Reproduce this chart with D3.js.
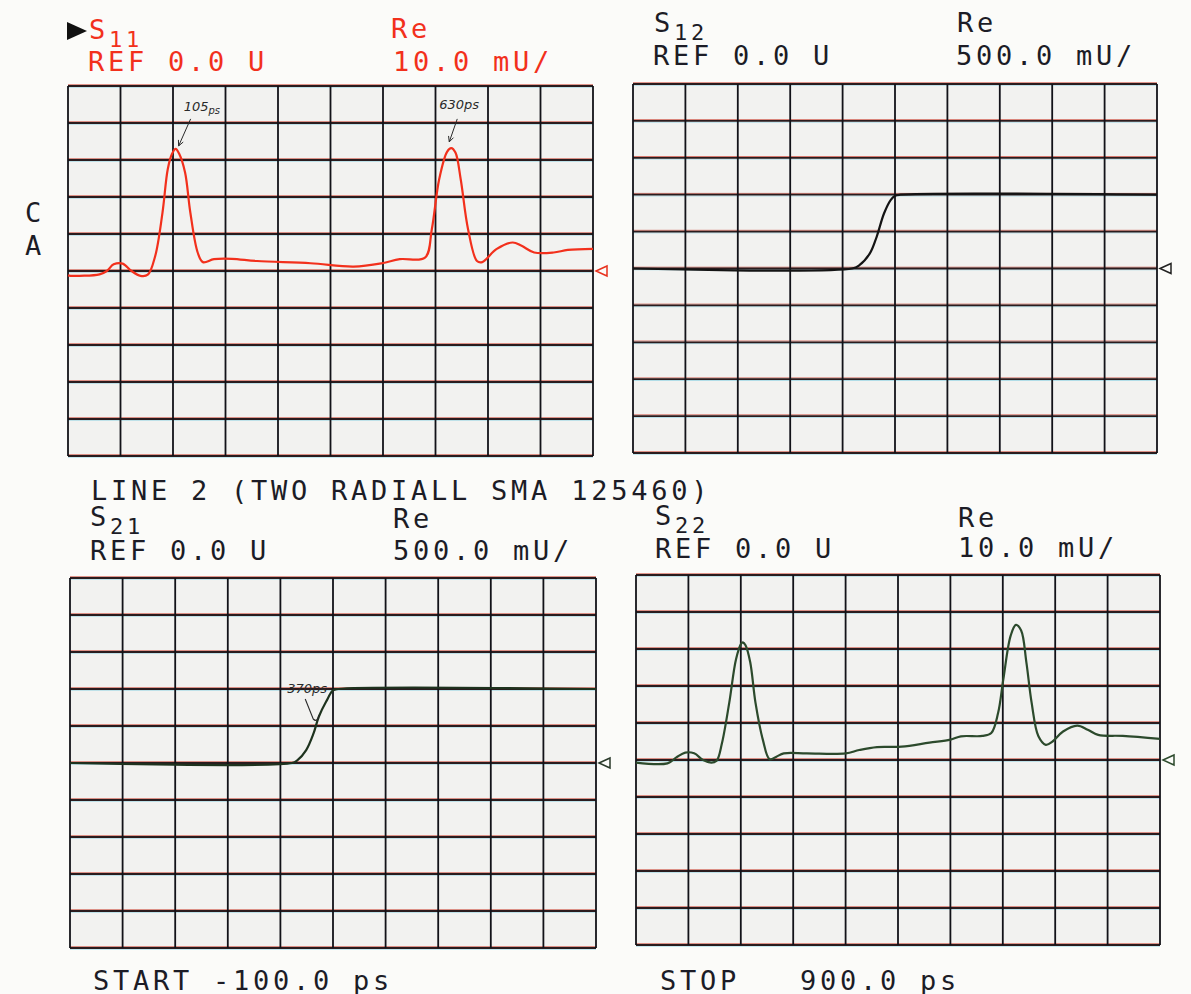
<!DOCTYPE html>
<html>
<head>
<meta charset="utf-8">
<script src="https://cdn.jsdelivr.net/npm/d3@7"></script>
<style>
  body { margin: 0; background: #fbfbf9; }
  svg { display: block; }
  .plot { font-family: "DejaVu Sans Mono", monospace; font-size: 27px; letter-spacing: 3.75px; white-space: pre; font-variant-numeric: slashed-zero; }
  .hand { font-family: "DejaVu Sans", sans-serif; font-style: italic; letter-spacing: 0; }
</style>
</head>
<body>
<svg id="chart" width="1191" height="994"></svg>
<script>
// time axis: START -100 ps, STOP 900 ps
const timeSpan = [-100, 900];

// S11 (red trace, 10 mU/div)
const s11Time = [-100, -95, -40, -26, -13, 4, 21, 38, 52, 66, 80, 90, 98, 105, 112, 123, 133, 147, 157, 178, 212, 260, 362, 444, 498, 532, 580, 593, 607, 622, 630, 638, 648, 662, 679, 689, 716, 747, 764, 788, 825, 852, 900];
const s11Val  = [-1.2, -1.3, -0.9, 0, 1.8, 2.0, 0, -1.3, -1.0, 4, 15.8, 27.5, 31.6, 33, 31.6, 26.6, 15.8, 5, 2.4, 3.2, 3.3, 2.7, 2.1, 1.2, 2.1, 3.2, 3.6, 11.3, 24.8, 32.2, 33.2, 32, 24.8, 11.3, 2.7, 2.4, 5.9, 7.7, 6.8, 5.0, 5.0, 5.7, 6.0];

// S12 (500 mU/div)
const s12Time = [-100, 318, 332, 352, 365, 379, 392, 400, 410, 900];
const s12Val  = [0, 0, 45, 205, 430, 745, 930, 985, 1000, 1000];

// S21 (500 mU/div)
const s21Time = [-100, 322, 332, 349, 363, 373, 387, 400, 410, 900];
const s21Val  = [0, 0, 35, 175, 400, 625, 830, 980, 1000, 1000];

// S22 (10 mU/div)
const s22Time = [-100, -40, -23, -6, 11, 28, 44, 54, 64, 78, 91, 101, 104, 109, 118, 128, 142, 155, 168, 182, 226, 300, 326, 360, 407, 460, 500, 520, 561, 578, 591, 601, 615, 625, 635, 645, 655, 668, 682, 695, 715, 742, 762, 782, 829, 900];
const s22Val  = [-0.7, -0.9, 0.7, 2.0, 1.8, 0, -0.7, -0.2, 4.5, 15.5, 27.3, 31.5, 31.8, 31, 26.4, 15.5, 5.5, 0.2, 0.9, 1.8, 1.8, 1.8, 2.7, 3.5, 3.6, 4.7, 5.5, 6.4, 6.5, 7.3, 12.7, 21.8, 33.6, 36.5, 35, 26.4, 15.5, 6.4, 4.1, 5.0, 7.7, 9.3, 8.2, 6.8, 6.5, 5.7];

const svg = d3.select("#chart");

const panels = [
  { name: "11", time: s11Time, val: s11Val, scale: 10,  left: 68,  top: 86,  right: 593,  bottom: 456, color: "#f2301c", tri: "#e8321e" },
  { name: "12", time: s12Time, val: s12Val, scale: 500, left: 633, top: 84,  right: 1157, bottom: 453, color: "#141414", tri: "#222" },
  { name: "21", time: s21Time, val: s21Val, scale: 500, left: 70,  top: 578, right: 596,  bottom: 948, color: "#1e331e", tri: "#2a3a2a" },
  { name: "22", time: s22Time, val: s22Val, scale: 10,  left: 636, top: 575, right: 1160, bottom: 945, color: "#2c4a2c", tri: "#2c4a2c" }
];

panels.forEach(p => {
  const x = d3.scaleLinear().domain(timeSpan).range([p.left, p.right]);
  const y = d3.scaleLinear().domain([-5 * p.scale, 5 * p.scale]).range([p.bottom, p.top]);
  p.x = x; p.y = y;
  const g = svg.append("g");

  g.append("rect")
    .attr("x", p.left).attr("y", p.top)
    .attr("width", p.right - p.left).attr("height", p.bottom - p.top)
    .attr("fill", "#f2f2f0");

  // horizontal lines with scan colour fringes
  const yt = y.ticks(10);
  g.selectAll(".hr").data(yt).join("line")
    .attr("x1", p.left).attr("x2", p.right)
    .attr("y1", d => y(d) - 1.3).attr("y2", d => y(d) - 1.3)
    .attr("stroke", "#c83a2a").attr("stroke-width", 1).attr("opacity", 0.65);
  g.selectAll(".hc").data(yt).join("line")
    .attr("x1", p.left).attr("x2", p.right)
    .attr("y1", d => y(d) + 1.3).attr("y2", d => y(d) + 1.3)
    .attr("stroke", "#3ab8d8").attr("stroke-width", 1).attr("opacity", 0.35);
  g.selectAll(".h").data(yt).join("line")
    .attr("x1", p.left).attr("x2", p.right)
    .attr("y1", d => y(d)).attr("y2", d => y(d))
    .attr("stroke", "#2a1c1e").attr("stroke-width", 1.8);

  g.selectAll(".v").data(x.ticks(10)).join("line")
    .attr("x1", d => x(d)).attr("x2", d => x(d))
    .attr("y1", p.top).attr("y2", p.bottom)
    .attr("stroke", "#121218").attr("stroke-width", 1.8);

  const line = d3.line()
    .x((d, i) => x(p.time[i]))
    .y(d => y(d))
    .curve(d3.curveCatmullRom.alpha(0.5));

  g.append("path")
    .datum(p.val)
    .attr("d", line)
    .attr("fill", "none")
    .attr("stroke", p.color)
    .attr("stroke-width", 2.2)
    .attr("stroke-linejoin", "round");

  // reference marker
  const r0 = y(0), rx = p.right + 3;
  g.append("path")
    .attr("d", `M${rx},${r0} L${rx + 11},${r0 - 5} L${rx + 11},${r0 + 5} Z`)
    .attr("fill", "#fbfbf9")
    .attr("stroke", p.tri)
    .attr("stroke-width", 1.5);
});

// header texts
function header(xp, base, sub, color) {
  const t = svg.append("text").attr("class", "plot").attr("x", xp).attr("y", base).attr("fill", color);
  t.append("tspan").text("S");
  t.append("tspan").attr("dy", 8).attr("font-size", 22).text(sub);
}
function label(xp, base, s, color) {
  svg.append("text").attr("class", "plot").attr("x", xp).attr("y", base).attr("fill", color).text(s);
}

const red = "#f2301c", ink = "#1c1c26";

svg.append("path").attr("d", "M67,22 L87,31 L67,40 Z").attr("fill", "#111");
header(89, 39, "11", red);
label(88, 71, "REF 0.0 U", red);
label(391, 38, "Re", red);
label(393, 71, "10.0 mU/", red);

header(654, 32, "12", ink);
label(653, 65, "REF 0.0 U", ink);
label(957, 32, "Re", ink);
label(956, 65, "500.0 mU/", ink);

label(91, 500, "LINE 2 (TWO RADIALL SMA 125460)", ink);

header(90, 526, "21", ink);
label(90, 560, "REF 0.0 U", ink);
label(393, 528, "Re", ink);
label(393, 560, "500.0 mU/", ink);

header(655, 525, "22", ink);
label(655, 558, "REF 0.0 U", ink);
label(958, 527, "Re", ink);
label(958, 557, "10.0 mU/", ink);

label(25, 222, "C", ink);
label(25, 255, "A", ink);

label(93, 990, "START -100.0 ps", ink);
label(660, 990, "STOP   900.0 ps", ink);

// handwritten markers
const pA = panels[0], pC = panels[2];
function note(xp, yp, main, small) {
  const t = svg.append("text").attr("class", "hand").attr("x", xp).attr("y", yp)
    .attr("fill", "#2a2a2a").attr("font-size", 13);
  t.append("tspan").text(main);
  if (small) t.append("tspan").attr("dy", 3).attr("font-size", 10).text(small);
}
function arrow(x1, y1, x2, y2) {
  svg.append("line").attr("x1", x1).attr("y1", y1).attr("x2", x2).attr("y2", y2)
    .attr("stroke", "#2a2a2a").attr("stroke-width", 1);
  const a = Math.atan2(y2 - y1, x2 - x1);
  const hx = (ang) => x2 - 6 * Math.cos(a + ang), hy = (ang) => y2 - 6 * Math.sin(a + ang);
  svg.append("path").attr("d", `M${hx(0.45)},${hy(0.45)} L${x2},${y2} L${hx(-0.45)},${hy(-0.45)}`)
    .attr("fill", "none").attr("stroke", "#2a2a2a").attr("stroke-width", 1);
}
note(pA.x(105) + 8, pA.y(33) - 38, "105", "ps");
arrow(pA.x(105) + 15, pA.y(33) - 30, pA.x(105) + 3, pA.y(33) - 3);
note(pA.x(630) - 12, pA.y(33) - 40, "630ps");
arrow(pA.x(630) + 6, pA.y(33) - 30, pA.x(630) - 2, pA.y(33) - 7);
note(pC.x(370) - 30, pC.y(1000) + 4, "370ps");
svg.append("path")
  .attr("d", `M${pC.x(370) - 12},${pC.y(1000) + 10} L${pC.x(370) - 4},${pC.y(1000) + 30} Q${pC.x(370)},${pC.y(1000) + 34} ${pC.x(370) + 2},${pC.y(1000) + 26}`)
  .attr("fill", "none").attr("stroke", "#2a2a2a").attr("stroke-width", 1.1);
</script>
</body>
</html>
